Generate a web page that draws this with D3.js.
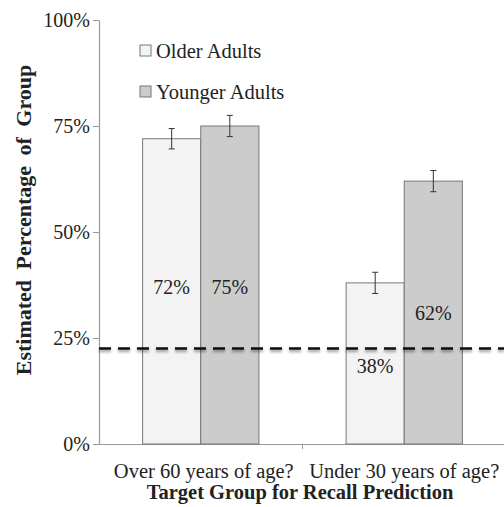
<!DOCTYPE html>
<html>
<head>
<meta charset="utf-8">
<script src="https://cdn.jsdelivr.net/npm/d3@7"></script>
<style>
  body { margin: 0; background: #fff; }
  text { font-family: "Liberation Serif", "Times New Roman", serif; fill: #222; }
</style>
</head>
<body>
<div id="chart"></div>
<script>
const targets = ["Over 60 years of age?", "Under 30 years of age?"];
const groups = ["Older Adults", "Younger Adults"];
const older = [72, 38];
const younger = [75, 62];
const olderErr = [2.4, 2.5];
const youngerErr = [2.5, 2.5];
const chanceLine = 22.5;
const yTicks = [0, 25, 50, 75, 100];

let height = 507,
  width = 504,
  margin = ({ top: 20, right: -2, bottom: 63, left: 99 });

const colors = { "Older Adults": "#f3f3f3", "Younger Adults": "#cccccc" };

const svg = d3.select("#chart")
  .append("svg")
  .attr("width", width)
  .attr("height", height);

let x = d3.scaleBand()
  .domain(targets)
  .range([margin.left, width - margin.right])
  .paddingInner(0)
  .paddingOuter(0);

let x1 = d3.scaleBand()
  .domain(groups)
  .range([0, x.bandwidth()])
  .paddingOuter(0.75)
  .paddingInner(0);

let y = d3.scaleLinear()
  .domain([0, 100])
  .range([height - margin.bottom, margin.top]);

// shadow under the dashed line (user space, since the line has no height)
svg.append("defs").append("filter")
  .attr("id", "shadow")
  .attr("filterUnits", "userSpaceOnUse")
  .attr("x", 0).attr("y", y(chanceLine) - 10)
  .attr("width", width).attr("height", 24)
  .append("feDropShadow")
  .attr("dx", 0).attr("dy", 2)
  .attr("stdDeviation", 1.6)
  .attr("flood-color", "#000")
  .attr("flood-opacity", 0.45);

let data = [];
targets.forEach((t, i) => {
  data.push({ target: t, group: groups[0], value: older[i], err: olderErr[i] });
  data.push({ target: t, group: groups[1], value: younger[i], err: youngerErr[i] });
});

// Y axis
const yAxis = svg.append("g")
  .attr("transform", `translate(${margin.left},0)`)
  .call(d3.axisLeft(y)
    .tickValues(yTicks)
    .tickSize(6)
    .tickSizeOuter(0)
    .tickPadding(3)
    .tickFormat(d => d + "%"));
yAxis.select(".domain").attr("stroke", "#999").attr("stroke-width", 1.2);
yAxis.selectAll(".tick line").attr("stroke", "#999");
yAxis.selectAll(".tick text")
  .attr("font-size", 20)
  .attr("fill", "#222");

// X axis
const xAxis = svg.append("g")
  .attr("transform", `translate(0,${y(0)})`)
  .call(d3.axisBottom(x)
    .tickSize(0)
    .tickPadding(19)
    .tickSizeOuter(0));
xAxis.select(".domain").attr("stroke", "#999").attr("stroke-width", 1.2);
xAxis.selectAll(".tick text")
  .attr("font-size", 20.5)
  .attr("dx", (d, i) => i === 0 ? 3 : 0)
  .attr("fill", "#222");

// category separator tick
svg.append("line")
  .attr("x1", x(targets[1])).attr("x2", x(targets[1]))
  .attr("y1", y(0)).attr("y2", y(0) + 5)
  .attr("stroke", "#999");

// bars
let bars = svg.append("g")
  .selectAll("g")
  .data(data)
  .join("g");

bars.append("rect")
  .attr("x", d => x(d.target) + x1(d.group))
  .attr("y", d => y(d.value))
  .attr("width", x1.bandwidth())
  .attr("height", d => y(0) - y(d.value))
  .attr("fill", d => colors[d.group])
  .attr("stroke", "#777")
  .attr("stroke-width", 1);

// error bars
bars.each(function (d) {
  let g = d3.select(this);
  let cx = x(d.target) + x1(d.group) + x1.bandwidth() / 2;
  g.append("line")
    .attr("x1", cx).attr("x2", cx)
    .attr("y1", y(d.value + d.err)).attr("y2", y(d.value - d.err))
    .attr("stroke", "#333");
  [d.value + d.err, d.value - d.err].forEach(v => {
    g.append("line")
      .attr("x1", cx - 3).attr("x2", cx + 3)
      .attr("y1", y(v)).attr("y2", y(v))
      .attr("stroke", "#333");
  });
});

// dashed chance line
svg.append("line")
  .attr("x1", margin.left)
  .attr("x2", width)
  .attr("y1", y(chanceLine))
  .attr("y2", y(chanceLine))
  .attr("stroke", "#111")
  .attr("stroke-width", 2.5)
  .attr("stroke-dasharray", "12,7")
  .attr("filter", "url(#shadow)");

// value labels (placed at these heights on the y scale)
let labelY = { "Older Adults": [37, 18.5], "Younger Adults": [37, 31] };
bars.append("text")
  .attr("x", d => x(d.target) + x1(d.group) + x1.bandwidth() / 2)
  .attr("y", d => y(labelY[d.group][targets.indexOf(d.target)]))
  .attr("dy", "0.35em")
  .attr("text-anchor", "middle")
  .attr("font-size", 20)
  .text(d => d.value + "%");

// legend
let legend = svg.append("g")
  .selectAll("g")
  .data(groups)
  .join("g")
  .attr("transform", (d, i) => `translate(140,${45 + i * 41})`);

legend.append("rect")
  .attr("width", 11)
  .attr("height", 11)
  .attr("fill", d => colors[d])
  .attr("stroke", "#777");

legend.append("text")
  .attr("x", 16)
  .attr("y", 13)
  .attr("font-size", 20.5)
  .text(d => d);

// axis titles
svg.append("text")
  .attr("text-anchor", "middle")
  .attr("transform", `translate(31,${220}) rotate(-90)`)
  .attr("font-size", 22)
  .attr("font-weight", "bold")
  .attr("word-spacing", 5)
  .text("Estimated Percentage of Group");

svg.append("text")
  .attr("text-anchor", "middle")
  .attr("x", 300)
  .attr("y", 499)
  .attr("font-size", 20.5)
  .attr("font-weight", "bold")
  .text("Target Group for Recall Prediction");
</script>
</body>
</html>
